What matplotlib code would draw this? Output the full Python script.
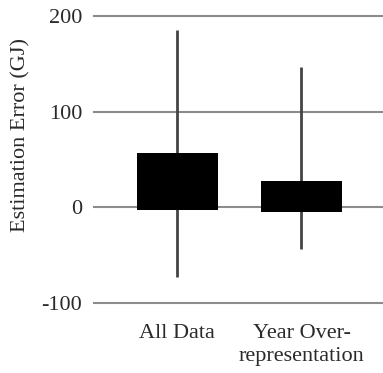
import matplotlib
matplotlib.use("Agg")
import matplotlib.pyplot as plt

# box plot summary (GJ)
groups = ["All Data", "Year Over-\nrepresentation"]
box_low = [-3, -5]
box_high = [57, 28]
whisker_low = [-73, -44]
whisker_high = [185, 147]
yticks = [-100, 0, 100, 200]
ytick_labels = ["-100", "0", "100", "200"]

plt.rcParams['font.family'] = ['Liberation Serif', 'DejaVu Serif']
text_col = '#2a2a2a'

fig = plt.figure(figsize=(3.83, 3.73), dpi=100)
ax = fig.add_axes([0.245, 0.1877, 0.755, 0.7695])

pos = [1, 2]
for p, lo, hi in zip(pos, whisker_low, whisker_high):
    ax.vlines(p, lo, hi, color='#444444', lw=2, zorder=2)
ax.bar(pos, [h - l for l, h in zip(box_low, box_high)], bottom=box_low,
       width=0.65, color='black', zorder=3)

for y in yticks:
    ax.axhline(y, color='#8c8c8c', lw=1.5, zorder=1, clip_on=False)

ax.set_xlim(0.327, 2.657)
ax.set_ylim(-100, 200)
ax.set_yticks(yticks)
ax.set_yticklabels(ytick_labels)
ax.set_xticks(pos)
ax.set_xticklabels(groups, linespacing=1.3)
ax.tick_params(length=0, labelsize=16, colors=text_col)
ax.tick_params(axis='y', pad=8.5)
ax.tick_params(axis='x', pad=15)
for s in ax.spines.values():
    s.set_visible(False)

# y label sits a bit above the axes centre in the original
fig.text(0.055, 0.637, "Estimation Error (GJ)", fontsize=16, color=text_col,
         rotation=90, ha='center', va='center')

fig.savefig("out.png", dpi=100)
